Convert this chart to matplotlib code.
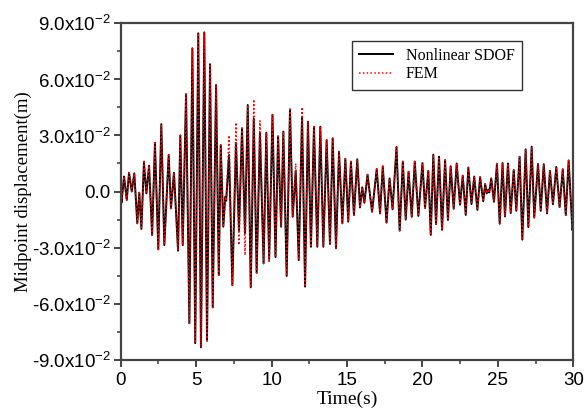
import numpy as np
import matplotlib
matplotlib.use("Agg")
import matplotlib.pyplot as plt
from matplotlib.ticker import FuncFormatter, MultipleLocator

# extrema: time (s) and displacement (x1e-2 m)
t = [0.00, 0.05, 0.22, 0.40, 0.55, 0.73, 0.90, 1.10, 1.23, 1.37,
     1.54, 1.70, 1.88, 2.08, 2.27, 2.49, 2.69, 2.89, 3.18, 3.33,
     3.53, 3.80, 3.95, 4.11, 4.33, 4.55, 4.75, 4.94, 5.14, 5.32,
     5.54, 5.72, 5.92, 6.10, 6.32, 6.50, 6.63, 6.80, 6.93, 6.99,
     7.18, 7.40, 7.64, 7.84, 8.04, 8.24, 8.42, 8.62, 8.82, 9.01,
     9.23, 9.47, 9.65, 9.84, 10.06, 10.26, 10.43, 10.63, 10.78, 11.00,
     11.22, 11.40, 11.60, 11.80, 12.02, 12.22, 12.41, 12.61, 12.81, 13.03,
     13.23, 13.43, 13.65, 13.87, 14.05, 14.27, 14.47, 14.69, 14.89, 15.08,
     15.26, 15.46, 15.68, 15.86, 16.01, 16.15, 16.36, 16.66, 16.97, 17.19,
     17.37, 17.62, 17.82, 18.02, 18.28, 18.49, 18.70, 18.89, 19.08, 19.29,
     19.49, 19.73, 20.00, 20.17, 20.39, 20.55, 20.72, 20.90, 21.10, 21.30,
     21.50, 21.69, 21.87, 22.07, 22.27, 22.49, 22.67, 22.87, 23.04, 23.25,
     23.43, 23.64, 23.82, 24.03, 24.16, 24.26, 24.36, 24.43, 24.56, 24.74,
     24.94, 25.12, 25.31, 25.47, 25.67, 25.85, 26.05, 26.22, 26.44, 26.62,
     26.84, 27.02, 27.24, 27.41, 27.66, 27.84, 28.04, 28.26, 28.45, 28.65,
     28.87, 29.09, 29.30, 29.50, 29.69, 29.94, 30.00]

sdof = [0.0, -0.6, 0.8, -0.45, 1.0, 0.0, 0.97, -1.7, -0.06, -2.0,
        1.54, -0.1, 1.38, -2.32, 2.6, -3.09, 3.6, -2.86, 1.95, -0.9,
        1.0, -3.16, 3.0, -2.86, 5.2, -7.04, 7.65, -8.1, 8.45, -8.32,
        8.5, -7.97, 6.8, -6.19, 5.69, -4.46, 2.48, -1.88, -0.28, -0.5,
        1.95, -5.0, 2.6, -2.06, 3.38, -2.23, 4.62, -5.12, 3.9, -4.34,
        3.14, -3.84, 3.14, -3.6, 4.1, -3.5, 2.95, -1.88, 3.2, -4.51,
        4.39, -1.35, 1.1, -3.66, 4.0, -5.08, 3.73, -2.95, 3.46, -2.95,
        3.46, -2.95, 2.75, -2.8, 2.84, -3.03, 2.13, -1.7, 1.75, -1.61,
        1.6, -1.26, 1.72, -0.85, 0.22, -0.6, 0.9, -1.08, 1.2, -1.17,
        1.35, -1.66, 0.7, -0.95, 2.38, -2.09, 1.6, -1.5, 1.06, -1.35,
        1.6, -1.3, 1.52, -0.88, 1.1, -2.32, 1.97, -1.74, 1.86, -2.04,
        1.68, -1.52, 1.35, -0.92, 1.5, -0.7, 0.85, -1.25, 1.28, -0.67,
        0.8, -0.98, 0.77, -0.52, 0.4, -0.1, 0.1, -0.05, 0.7, -0.55,
        1.47, -1.72, 1.52, -1.33, 1.5, -1.15, 1.15, -1.03, 1.86, -2.57,
        2.25, -1.9, 2.39, -1.39, 1.47, -1.03, 1.46, -1.17, 1.1, -0.68,
        1.31, -0.83, 1.19, -1.26, 1.66, -2.06, -1.8]

# FEM follows the SDOF curve except at these extrema (time -> value)
fem_changes = {1.54: 1.7, 7.18: 3.0, 7.64: 3.68, 7.84: -2.86, 8.24: -3.4,
               8.82: 4.92, 9.23: 3.78, 9.84: -3.8, 11.60: 1.5, 12.02: 4.5}

fem = [fem_changes.get(ti, v) for ti, v in zip(t, sdof)]

t = np.array(t)
sdof = np.array(sdof) * 1e-2
fem = np.array(fem) * 1e-2

fig = plt.figure(figsize=(5.84, 4.11), dpi=100)
ax = fig.add_axes([0.2067, 0.124, 0.775, 0.82])

ax.plot(t, sdof, color="black", linewidth=1.4, label="Nonlinear SDOF")
ax.plot(t, fem, color="red", linewidth=1.1, linestyle=(0, (1, 1.5)), label="FEM")

ax.set_xlim(0, 30)
ax.set_ylim(-0.09, 0.09)
ax.xaxis.set_major_locator(MultipleLocator(5))
ax.xaxis.set_minor_locator(MultipleLocator(2.5))
ax.yaxis.set_major_locator(MultipleLocator(0.03))
ax.yaxis.set_minor_locator(MultipleLocator(0.015))


def yfmt(v, pos):
    if abs(v) < 1e-9:
        return "0.0"
    return "%.1fx10$^{\\mathregular{-2}}$" % (v * 100)


ax.yaxis.set_major_formatter(FuncFormatter(yfmt))

for s in ax.spines.values():
    s.set_linewidth(1.6)
    s.set_color("#444444")
ax.tick_params(which="major", direction="out", length=5, width=1.4, color="#444444",
               labelsize=13.5, top=False, right=False)
ax.tick_params(which="major", axis="y", pad=2)
ax.tick_params(which="minor", direction="out", length=3, width=1.2, color="#444444",
               top=False, right=False)
for lab in ax.get_xticklabels() + ax.get_yticklabels():
    lab.set_fontfamily("Liberation Sans")

ax.set_xlabel("Time(s)", fontfamily="Liberation Serif", fontsize=14, labelpad=1)
ax.set_ylabel("Midpoint displacement(m)", fontfamily="Liberation Serif", fontsize=13.5, labelpad=0)

leg = ax.legend(loc="upper right", bbox_to_anchor=(0.886, 0.947), borderaxespad=0,
                prop={"family": "Liberation Serif", "size": 11.5}, fancybox=False,
                edgecolor="#333333", framealpha=1, handlelength=2.1, labelspacing=0.15,
                borderpad=0.45)
leg.get_frame().set_linewidth(1.0)

fig.savefig("out.png", dpi=100)
